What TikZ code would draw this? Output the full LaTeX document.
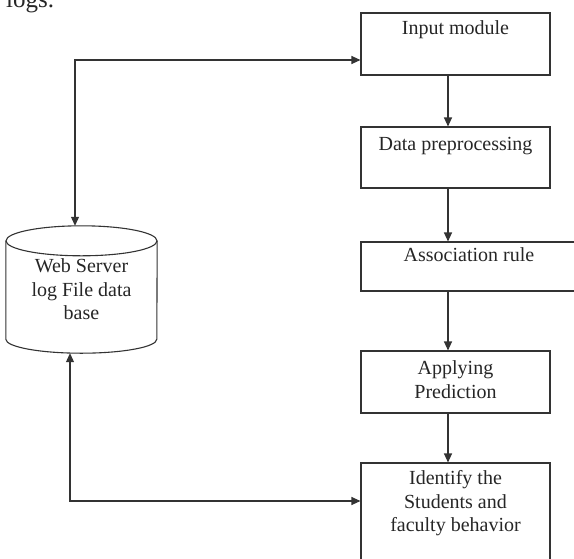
\documentclass[tikz,border=0pt]{standalone}
\usepackage{fontspec}
\setmainfont{Liberation Serif}
\usetikzlibrary{shapes,arrows.meta,positioning,calc}

\tikzset{
  stage/.style={draw=black!80, line width=1.1pt, rectangle, minimum width=189pt, inner sep=0pt},
  stagetext/.style={align=center, inner sep=0pt, text=black!85, font=\fontsize{20}{23.5}\selectfont},
  flow/.style={draw=black!80, line width=1.1pt, -{Triangle[length=9pt,width=8pt]}},
  twoway/.style={flow, {Triangle[length=9pt,width=8pt]}-{Triangle[length=9pt,width=8pt]}},
}

\begin{document}
\begin{tikzpicture}[x=1pt, y=-1pt]
\useasboundingbox (0,0) rectangle (574,558);
\clip (0,0) rectangle (574,558);

\node[anchor=base west, inner sep=0pt, text=black!85, font=\fontsize{25}{30}\selectfont] (logs) at (6,7.5) {logs.};

\node[stage, minimum height=62pt] (input) at (455.5,44) {};
\node[stagetext, below=8pt of input.north] (inputtext) {Input module};

\node[stage, minimum height=61pt] (prep) at (455.5,157.5) {};
\node[stagetext, below=11pt of prep.north] (preptext) {Data preprocessing};

\node[stage, minimum height=49pt, minimum width=216pt] (assoc) at (469,266.5) {};
\node[stagetext, below=6pt of assoc.north] (assoctext) {Association rule};

\node[stage, minimum height=62pt] (apply) at (455.5,382) {};
\node[stagetext, below=10pt of apply.north] (applytext) {Applying\\Prediction};

\node[stage, minimum height=110pt] (ident) at (455.5,518) {};
\node[stagetext, below=8pt of ident.north] (identtext) {Identify the\\Students and\\faculty behavior};

\node[stagetext, minimum width=151pt, minimum height=127pt] (db) at (81.5,289.5) {Web Server\\log File data\\base};
\draw[draw=black!80, line width=1.1pt] ([yshift=-15pt]db.north) ellipse [x radius=75.5pt, y radius=15pt];
\draw[draw=black!80, line width=1.1pt] ([yshift=-15pt]db.north west) -- ([yshift=14pt]db.south west)
  arc[start angle=180, end angle=360, x radius=75.5pt, y radius=14pt] -- ([yshift=-15pt]db.north east);

\coordinate (spine) at (448,0);
\coordinate (toptap) at (75,60);
\coordinate (bottap) at (70,501);

\draw[flow] (input.south -| spine) -- (prep.north -| spine);
\draw[flow] (prep.south -| spine) -- (assoc.north -| spine);
\draw[flow] (assoc.south -| spine) -- (apply.north -| spine);
\draw[flow] (apply.south -| spine) -- (ident.north -| spine);

\draw[twoway] (db.north -| toptap) -- (toptap) -- (toptap -| input.west);
\draw[twoway] (db.south -| bottap) -- (bottap) -- (bottap -| ident.west);

\end{tikzpicture}
\end{document}
